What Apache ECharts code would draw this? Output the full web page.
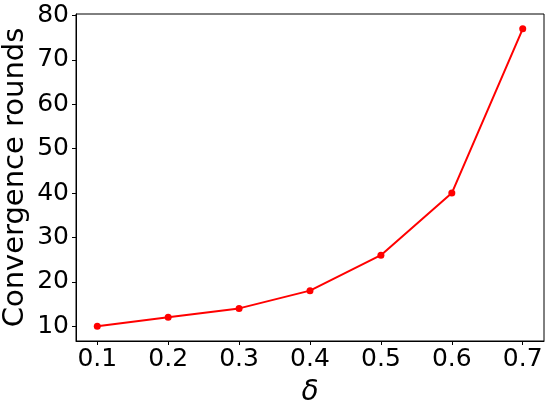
<!DOCTYPE html>
<html>
<head>
<meta charset="utf-8">
<script src="https://cdn.jsdelivr.net/npm/echarts@6/dist/echarts.min.js"></script>
<style>html,body{margin:0;padding:0;background:#fff}#c{width:550px;height:406px}</style>
</head>
<body>
<div id="c"></div>
<script>
const deltas = [0.1, 0.2, 0.3, 0.4, 0.5, 0.6, 0.7];
const rounds = [10, 12, 14, 18, 26, 40, 77];
const xTicks = [0.1, 0.2, 0.3, 0.4, 0.5, 0.6, 0.7];
const yTicks = [10, 20, 30, 40, 50, 60, 70, 80];

const chart = echarts.init(document.getElementById('c'), null, {renderer: 'canvas'});
const font = 'DejaVu Sans';
chart.setOption({
  animation: false,
  backgroundColor: '#fff',
  grid: {left: 76, right: 6, top: 14, bottom: 65, show: true, borderColor: '#000', borderWidth: 1,
    containLabel: false, outerBoundsMode: 'none'},
  xAxis: {
    type: 'value', min: 0.07, max: 0.73,
    name: 'δ', nameLocation: 'middle', nameGap: 38, nameMoveOverlap: false,
    nameTextStyle: {fontFamily: font, fontStyle: 'italic', fontSize: 28, color: '#000'},
    axisLine: {show: true, lineStyle: {color: '#000', width: 1}},
    axisTick: {show: true, length: 4, lineStyle: {color: '#000'}, customValues: xTicks},
    axisLabel: {customValues: xTicks, fontFamily: font, fontSize: 25, color: '#000', margin: 6,
      formatter: v => v.toFixed(1)},
    splitLine: {show: false}
  },
  yAxis: {
    type: 'value', min: 6.65, max: 80.35,
    name: 'Convergence rounds', nameLocation: 'middle', nameGap: 46, nameMoveOverlap: false,
    nameTextStyle: {fontFamily: font, fontSize: 29, color: '#000'},
    axisLine: {show: true, lineStyle: {color: '#000', width: 1}},
    axisTick: {show: true, length: 4, lineStyle: {color: '#000'}, customValues: yTicks},
    axisLabel: {customValues: yTicks, fontFamily: font, fontSize: 25, color: '#000', margin: 7},
    splitLine: {show: false}
  },
  series: [{
    type: 'line',
    data: deltas.map((d, i) => [d, rounds[i]]),
    symbol: 'circle', symbolSize: 7,
    lineStyle: {color: '#ff0000', width: 2},
    itemStyle: {color: '#ff0000'}
  }]
});
</script>
</body>
</html>
